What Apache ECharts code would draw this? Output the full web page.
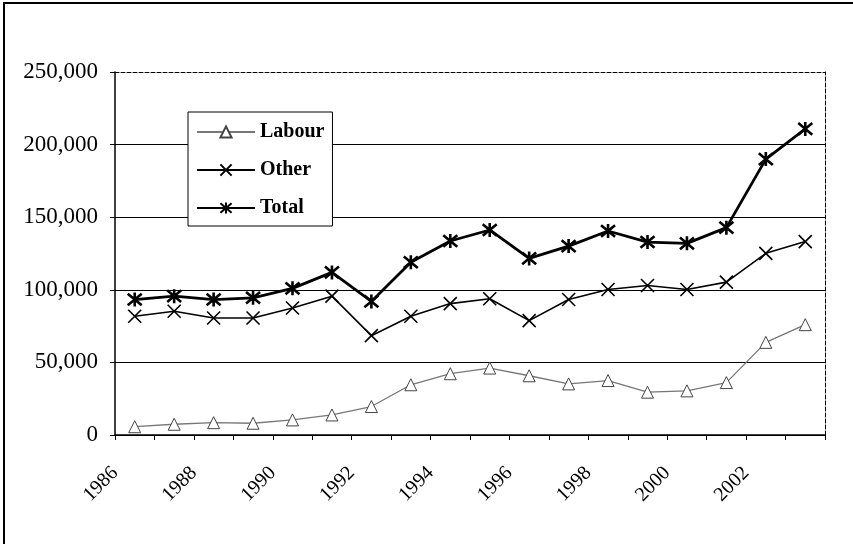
<!DOCTYPE html>
<html>
<head>
<meta charset="utf-8">
<script src="https://cdn.jsdelivr.net/npm/echarts@6/dist/echarts.min.js"></script>
<style>html,body{margin:0;padding:0;background:#fff;}#c{width:853px;height:544px;}</style>
</head>
<body>
<div id="c"></div>
<script>
var years = [1986,1987,1988,1989,1990,1991,1992,1993,1994,1995,1996,1997,1998,1999,2000,2001,2002,2003];
var labour = [5700,7400,8500,8100,10400,13800,19600,34600,42200,46100,40800,35200,37500,29500,30400,36100,63800,76000];
var other = [81800,85200,80600,80600,87500,95600,68400,81800,90500,93800,78800,93300,100200,103000,100200,105300,125100,133200];
var total = [93300,95600,93300,94500,101000,112000,92000,119000,133600,141200,121600,130100,140500,132900,132000,142800,190000,210800];
var yTicks = [0,50000,100000,150000,200000,250000];

function pts(vals){ return years.map(function(y,i){ return [y+0.5, vals[i]]; }); }
var FONT = 'Liberation Serif';
var chart = echarts.init(document.getElementById('c'), null, {renderer:'canvas'});
var X_PATH = 'path://M0,0L10,10M10,0L0,10';
var STAR_PATH = 'path://M0,0L10,10M10,0L0,10M5,-1L5,11';
chart.setOption({
  backgroundColor:'#fff',
  animation:false,
  graphic:[{type:'rect', shape:{x:4,y:3,width:900,height:600}, style:{fill:'none',stroke:'#000',lineWidth:2}, z:100}],
  grid:{left:115,right:28,top:72,bottom:109},
  legend:{
    orient:'vertical', left:188, top:112,
    backgroundColor:'#fff', borderColor:'#000', borderWidth:1,
    padding:[10,8,8,8], itemWidth:58, itemHeight:14, itemGap:18, itemTextGap:2,
    textStyle:{fontFamily:FONT,fontSize:20,fontWeight:'bold',color:'#000',lineHeight:20},
    data:['Labour','Other','Total']
  },
  xAxis:[{
    type:'value', min:1986, max:2004, interval:1,
    axisLine:{show:true,onZero:false,lineStyle:{color:'#000',width:1.5}},
    axisTick:{show:true,length:5,lineStyle:{color:'#000'}},
    splitLine:{show:false},
    axisLabel:{rotate:45, margin:35, fontFamily:FONT, fontSize:20, color:'#000',
      formatter:function(v){ return (v%2===0 && v<=2002) ? String(v) : ''; }}
  },{
    type:'value', position:'top', min:1986, max:2004,
    axisLine:{show:true,onZero:false,lineStyle:{color:'#000',width:1,type:'dashed'}},
    axisTick:{show:false}, axisLabel:{show:false}, splitLine:{show:false}
  }],
  yAxis:[{
    type:'value', min:yTicks[0], max:yTicks[yTicks.length-1], interval:50000,
    axisLine:{show:true,onZero:false,lineStyle:{color:'#000',width:1.5}},
    axisTick:{show:true,length:5,lineStyle:{color:'#000'}},
    splitLine:{show:true,showMaxLine:false,lineStyle:{color:'#000',width:1}},
    axisLabel:{margin:17, fontFamily:FONT, fontSize:23, color:'#000',
      formatter:function(v){ return v.toLocaleString('en-US'); }}
  },{
    type:'value', position:'right', min:0, max:250000,
    axisLine:{show:true,onZero:false,lineStyle:{color:'#000',width:1,type:'dashed'}},
    axisTick:{show:false}, axisLabel:{show:false}, splitLine:{show:false}
  }],
  series:[
    {name:'Labour', type:'line', data:pts(labour), symbol:'triangle', symbolSize:12,
     lineStyle:{color:'#777',width:1.3}, itemStyle:{color:'#fff',borderColor:'#444',borderWidth:1}, z:3},
    {name:'Other', type:'line', data:pts(other), symbol:X_PATH, symbolSize:13,
     lineStyle:{color:'#000',width:1.6}, itemStyle:{color:'#000',borderColor:'#000',borderWidth:1.6}, z:4},
    {name:'Total', type:'line', data:pts(total), symbol:STAR_PATH, symbolSize:14,
     lineStyle:{color:'#000',width:2.8}, itemStyle:{color:'#000',borderColor:'#000',borderWidth:2.6}, z:5}
  ]
});
</script>
</body>
</html>
